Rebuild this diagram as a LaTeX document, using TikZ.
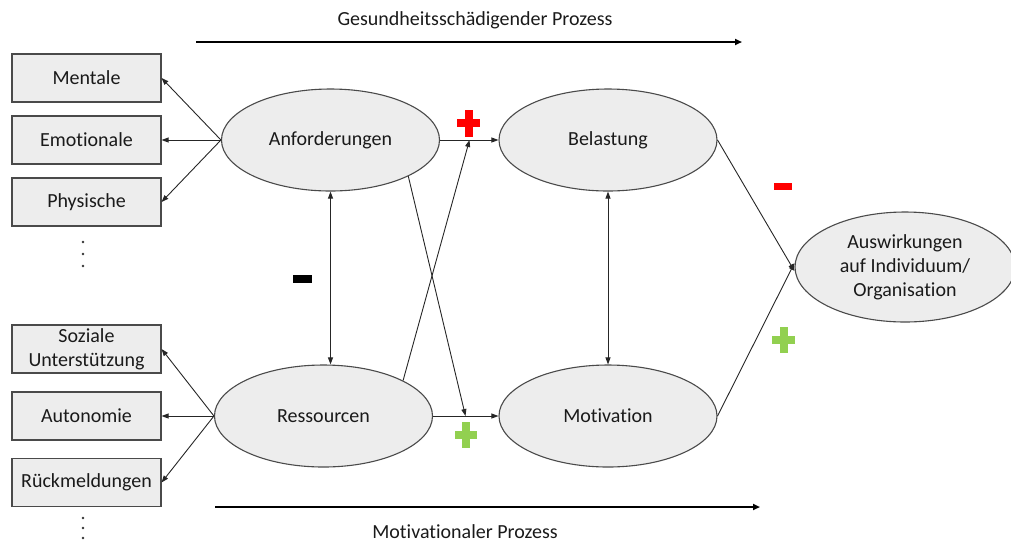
\documentclass[tikz,border=0pt]{standalone}
\usepackage{fontspec}
\setmainfont{Carlito}[Ligatures=NoCommon]
\usetikzlibrary{arrows.meta,shapes.geometric}
\definecolor{boxfill}{HTML}{EDEDED}
\definecolor{boxline}{HTML}{4A4A4A}
\definecolor{txt}{HTML}{1A1A1A}
\definecolor{plusred}{HTML}{FF0000}
\definecolor{plusgreen}{HTML}{92D050}
\tikzset{
  box/.style={draw=boxline, line width=1.1pt, fill=boxfill, minimum width=149pt, minimum height=48pt, inner sep=0pt, align=center, text=txt, font=\fontsize{20}{24}\selectfont},
  oval/.style={ellipse, draw=boxline, line width=1.1pt, fill=boxfill, minimum width=218pt, minimum height=102pt, inner sep=0pt, align=center, text=txt, font=\fontsize{20}{24}\selectfont},
  conn/.style={draw=black!85, line width=0.9pt, -{Triangle[length=7pt,width=5pt]}},
  dconn/.style={draw=black!85, line width=0.9pt, {Triangle[length=7pt,width=5pt]}-{Triangle[length=7pt,width=5pt]}},
  proc/.style={draw=black, line width=2pt, -{Triangle[length=7pt,width=6pt]}},
  lbl/.style={text=txt, font=\fontsize{20}{24}\selectfont, inner sep=0pt},
  vdot/.style={circle, fill=black!80, inner sep=0pt, minimum size=2.6pt}
}
\begin{document}
\begin{tikzpicture}[x=1pt,y=-1pt]
\useasboundingbox (0,0) rectangle (1011,542);
% left boxes
\node[box] (men) at (86.5,78) {Mentale};
\node[box] (emo) at (86.5,140) {Emotionale};
\node[box] (phy) at (86.5,202) {Physische};
\node[box] (soz) at (86.5,349) {Soziale\\Unterstützung};
\node[box] (aut) at (86.5,416) {Autonomie};
\node[box] (rue) at (86.5,482.5) {Rückmeldungen};
% dots
\node[vdot] (d1) at (83,242) {};
\node[vdot] (d2) at (83,254) {};
\node[vdot] (d3) at (83,266) {};
\node[vdot] (d4) at (83,518) {};
\node[vdot] (d5) at (83,528) {};
\node[vdot] (d6) at (83,538) {};
% ellipses
\node[oval] (anf) at (330.5,140) {Anforderungen};
\node[oval] (res) at (323.5,416) {Ressourcen};
\node[oval] (bel) at (608,140) {Belastung};
\node[oval] (mot) at (608,416) {Motivation};
\node[oval, minimum width=220pt, minimum height=110pt] (aus) at (905,267) {Auswirkungen\\auf Individuum/\\Organisation};
% left connectors
\draw[conn] (anf.west) -- (men.east);
\draw[conn] (anf.west) -- (emo.east);
\draw[conn] (anf.west) -- (phy.east);
\draw[conn] (res.west) -- (soz.east);
\draw[conn] (res.west) -- (aut.east);
\draw[conn] (res.west) -- (rue.east);
% middle
\coordinate (pA) at (469.5,140);
\coordinate (pB) at (465.5,416);
\draw[conn] (anf.east) -- (bel.west);
\draw[conn] (res.east) -- (mot.west);
\draw[conn] (res.24) -- (pA);
\draw[conn] (anf.-25) -- (pB);
\draw[dconn] (anf.south) -- (anf.south |- res.north);
\draw[dconn] (bel.south) -- (mot.north);
% to outcome
\coordinate (aT) at ([yshift=-4pt]aus.west);
\coordinate (aB) at ([yshift=4pt]aus.west);
\draw[conn] (bel.east) -- (aT);
\draw[conn] (mot.east) -- (aB);
% process arrows
\coordinate (t1) at (196,42);
\coordinate (t2) at (742,42);
\coordinate (b1) at (215,507);
\coordinate (b2) at (760,507);
\draw[proc] (t1) -- (t2);
\draw[proc] (b1) -- (b2);
\node[lbl] (tg) at (475,20) {Gesundheitsschädigender Prozess};
\node[lbl] (tm) at (465,532) {Motivationaler Prozess};
% signs
\fill[plusred] (457,119) rectangle (480,127);
\fill[plusred] (464.5,110) rectangle (472.5,137);
\fill[plusgreen] (455,431) rectangle (477,439);
\fill[plusgreen] (462,422) rectangle (470,448);
\fill[plusgreen] (772,336) rectangle (795,344);
\fill[plusgreen] (779.5,327) rectangle (787.5,353);
\fill[plusred] (774,183) rectangle (792,189.5);
\fill[black] (293,275) rectangle (312,283);
\end{tikzpicture}
\end{document}
